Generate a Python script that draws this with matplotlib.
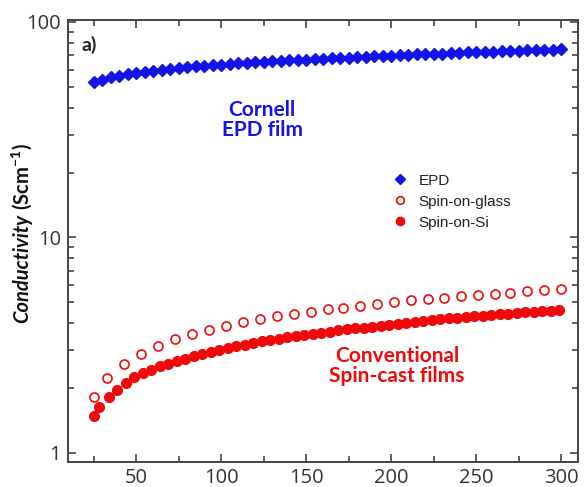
import matplotlib
matplotlib.use('Agg')
import matplotlib.pyplot as plt
from matplotlib.ticker import MultipleLocator, FixedLocator, FixedFormatter, LogLocator, NullFormatter

# data
epd_x = list(range(25, 301, 5))
epd_y = [52.8, 54.0, 55.2, 56.1, 57.1, 58.0, 58.7, 59.4, 60.0, 60.6,
         61.2, 61.7, 62.2, 62.6, 63.0, 63.4, 63.8, 64.2, 64.6, 64.9,
         65.3, 65.6, 65.9, 66.2, 66.5, 66.8, 67.1, 67.4, 67.7, 68.0,
         68.3, 68.6, 68.9, 69.2, 69.5, 69.8, 70.1, 70.3, 70.6, 70.8,
         71.1, 71.3, 71.6, 71.8, 72.1, 72.3, 72.5, 72.8, 73.0, 73.2,
         73.5, 73.7, 73.9, 74.1, 74.3, 74.6]

glass_x = [25, 33, 43, 53, 63, 73, 83, 93, 103, 113, 123, 133, 143, 153, 163,
           172, 182, 192, 202, 212, 222, 231, 241, 251, 261, 270, 280, 290, 300]
glass_y = [1.81, 2.22, 2.59, 2.88, 3.14, 3.37, 3.55, 3.72, 3.88, 4.04, 4.19, 4.30,
           4.42, 4.53, 4.64, 4.73, 4.82, 4.91, 5.00, 5.10, 5.19, 5.26, 5.34, 5.41,
           5.49, 5.55, 5.62, 5.69, 5.77]

si_x = [25, 28] + list(range(34, 300, 5))
si_y = [1.49, 1.64, 1.82, 1.96, 2.11, 2.25, 2.34, 2.43, 2.52, 2.60,
        2.67, 2.74, 2.81, 2.88, 2.95, 3.01, 3.07, 3.12, 3.18, 3.23,
        3.29, 3.34, 3.39, 3.44, 3.49,
        3.53, 3.57, 3.61, 3.66, 3.70, 3.74, 3.78, 3.82, 3.86, 3.90,
        3.94, 3.98, 4.02, 4.06, 4.10, 4.14, 4.17, 4.21, 4.24, 4.28,
        4.31, 4.34, 4.37, 4.40, 4.43, 4.46, 4.49, 4.52, 4.55, 4.58, 4.61]

y_ticks = [1, 10, 100]
y_tick_labels = ['1', '10', '100']

BLUE = '#1414e6'
RED = '#ee0a0a'
AXC = '#444444'

plt.rcParams['mathtext.fontset'] = 'custom'
plt.rcParams['mathtext.rm'] = 'Lato:bold'
plt.rcParams['mathtext.bf'] = 'Lato:bold'

fig = plt.figure(figsize=(5.87, 4.87), dpi=100)
ax = fig.add_axes([68 / 587, 1 - 461.5 / 487, 510 / 587, 441.5 / 487])

ax.plot(epd_x, epd_y, 'D', color=BLUE, ms=6.5, mec=BLUE, label='EPD')
ax.plot(glass_x, glass_y, 'o', mfc='white', mec=RED, mew=1.2, ms=6.5, ls='none', label='Spin-on-glass')
ax.plot(si_x, si_y, 'o', color=RED, ms=7, ls='none', label='Spin-on-Si')

ax.set_yscale('log')
ax.set_ylim(0.913, 102)
ax.set_xlim(10, 310)

ax.yaxis.set_major_locator(FixedLocator(y_ticks))
ax.yaxis.set_major_formatter(FixedFormatter(y_tick_labels))
ax.yaxis.set_minor_locator(LogLocator(base=10, subs=range(2, 10)))
ax.yaxis.set_minor_formatter(NullFormatter())
ax.xaxis.set_major_locator(MultipleLocator(50))
ax.xaxis.set_minor_locator(MultipleLocator(25))

ax.tick_params(which='both', direction='in', top=True, right=True, colors=AXC,
               labelcolor='#333333', width=1.2)
ax.tick_params(which='major', length=6, labelsize=14.5, pad=5)
ax.tick_params(which='minor', length=4)
for lab in ax.get_xticklabels() + ax.get_yticklabels():
    lab.set_family('Open Sans')
for sp in ax.spines.values():
    sp.set_color(AXC)
    sp.set_linewidth(1.4)

leg = ax.legend(loc='upper left', bbox_to_anchor=(377 / 587, 1 - 160 / 487),
                bbox_transform=fig.transFigure, frameon=False,
                prop={'family': 'Liberation Sans', 'size': 11},
                handletextpad=0.6, handlelength=1.2, labelspacing=0.45, markerscale=0.85)
for t in leg.get_texts():
    t.set_color('#222222')

ax.text(82 / 587, 1 - 45 / 487, 'a)', transform=fig.transFigure, fontsize=14,
        fontweight='bold', family='Lato', color='#222222', va='center', ha='left')
ax.text(262 / 587, 1 - 120 / 487, 'Cornell\nEPD film', transform=fig.transFigure,
        fontsize=15, fontweight='bold', family='Lato', color=BLUE, ha='center',
        va='center', linespacing=1.05)
ax.text(397 / 587, 1 - 366 / 487, 'Conventional\nSpin-cast films', transform=fig.transFigure,
        fontsize=15, fontweight='bold', family='Lato', color=RED, ha='center',
        va='center', linespacing=1.05)

# y label: italic word followed by upright unit, chained end to end
t1 = fig.text(22 / 587, 1 - 323 / 487, 'Conductivity', rotation=90, ha='center', va='bottom',
              fontsize=14.5, fontweight='bold', style='italic', family='Lato', color='#111111')
fig.canvas.draw()
bb = t1.get_window_extent()
fig.text(22 / 587, (bb.y1 + 4) / fig.bbox.height, r'(Scm$^{\mathregular{-1}}$)', rotation=90,
         ha='center', va='bottom', fontsize=14.5, fontweight='bold', family='Lato',
         color='#111111')

fig.savefig('out.png', dpi=100)
